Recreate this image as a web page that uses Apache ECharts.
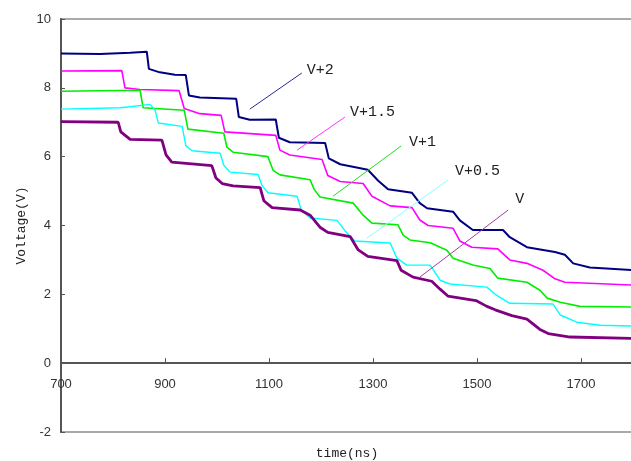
<!DOCTYPE html>
<html>
<head>
<meta charset="utf-8">
<script src="https://cdn.jsdelivr.net/npm/echarts@6/dist/echarts.min.js"></script>
<style>
html,body{margin:0;padding:0;background:#fff;}
#chart{width:631px;height:461px;}
</style>
</head>
<body>
<div id="chart"></div>
<script>
// ---- data ----
const seriesNames = ['V+2', 'V+1.5', 'V+1', 'V+0.5', 'V'];

const timeV2 = [700, 775, 833, 865, 869, 890, 919, 940, 946, 967, 1037, 1042, 1063, 1113, 1119, 1140, 1208, 1215, 1237, 1290, 1310, 1329, 1375, 1390, 1404, 1454, 1467, 1492, 1550, 1563, 1596, 1650, 1669, 1685, 1717, 1800];
const voltV2 = [9.00, 8.98, 9.02, 9.05, 8.55, 8.45, 8.38, 8.37, 7.78, 7.72, 7.68, 7.15, 7.07, 7.08, 6.55, 6.42, 6.40, 5.95, 5.78, 5.62, 5.30, 5.05, 4.95, 4.65, 4.50, 4.40, 4.15, 3.87, 3.87, 3.66, 3.37, 3.23, 3.15, 2.90, 2.78, 2.70];

const timeV15 = [700, 817, 823, 852, 927, 937, 967, 1008, 1015, 1113, 1121, 1140, 1202, 1213, 1237, 1281, 1298, 1333, 1375, 1390, 1406, 1454, 1467, 1490, 1540, 1563, 1596, 1627, 1650, 1669, 1800];
const voltV15 = [8.49, 8.50, 8.00, 7.95, 7.92, 7.40, 7.25, 7.20, 6.72, 6.62, 6.19, 6.05, 5.92, 5.45, 5.28, 5.22, 4.85, 4.57, 4.52, 4.16, 4.00, 3.92, 3.55, 3.37, 3.32, 3.00, 2.90, 2.70, 2.45, 2.35, 2.27];

const timeV1 = [700, 852, 858, 937, 944, 1013, 1019, 1031, 1098, 1108, 1121, 1179, 1187, 1198, 1262, 1281, 1298, 1348, 1358, 1371, 1410, 1442, 1454, 1492, 1525, 1540, 1596, 1621, 1635, 1660, 1698, 1800];
const voltV1 = [7.90, 7.93, 7.42, 7.35, 6.80, 6.68, 6.28, 6.13, 6.00, 5.60, 5.47, 5.33, 5.05, 4.83, 4.65, 4.30, 4.07, 4.02, 3.72, 3.58, 3.50, 3.28, 3.05, 2.85, 2.75, 2.47, 2.35, 2.12, 1.89, 1.77, 1.65, 1.63];

const timeV05 = [700, 813, 833, 871, 881, 887, 933, 940, 952, 1006, 1013, 1025, 1079, 1087, 1098, 1154, 1162, 1179, 1231, 1246, 1265, 1333, 1346, 1365, 1410, 1429, 1448, 1519, 1535, 1563, 1646, 1660, 1692, 1737, 1800];
const voltV05 = [7.38, 7.42, 7.45, 7.52, 7.35, 6.98, 6.88, 6.32, 6.17, 6.10, 5.75, 5.55, 5.48, 5.15, 4.95, 4.85, 4.45, 4.22, 4.15, 3.85, 3.55, 3.49, 3.05, 2.85, 2.85, 2.41, 2.30, 2.21, 2.00, 1.74, 1.72, 1.40, 1.19, 1.10, 1.08];

const timeV = [700, 810, 815, 833, 894, 902, 913, 990, 998, 1010, 1031, 1083, 1090, 1106, 1160, 1179, 1198, 1213, 1256, 1271, 1290, 1346, 1354, 1377, 1413, 1429, 1444, 1498, 1519, 1535, 1567, 1596, 1621, 1637, 1679, 1800];
const voltV = [7.02, 7.00, 6.72, 6.50, 6.48, 6.05, 5.84, 5.74, 5.38, 5.22, 5.15, 5.10, 4.72, 4.52, 4.45, 4.30, 3.95, 3.80, 3.68, 3.30, 3.10, 2.98, 2.70, 2.50, 2.38, 2.15, 1.95, 1.82, 1.65, 1.55, 1.38, 1.28, 0.98, 0.86, 0.76, 0.72];

// pointer lines for the curve labels
const pointerStartTime = [1063, 1154, 1223, 1288, 1390];
const pointerStartVolt = [7.38, 6.19, 4.85, 3.63, 2.50];
const pointerEndTime   = [1163, 1246, 1354, 1444, 1560];
const pointerEndVolt   = [8.43, 7.15, 6.31, 5.32, 4.45];

// axis ticks
const xTicks = [700, 900, 1100, 1300, 1500, 1700];
const yTicks = [-2, 0, 2, 4, 6, 8, 10];

// ---- styles / layout ----
const colors = ['#000080', '#ff00ff', '#00ee00', '#00ffff', '#800080'];
const pointerColors = ['#2a2a9a', '#ff33ff', '#22dd22', '#88ffff', '#a040a0'];
const widths = [2, 1.6, 1.6, 1.4, 2.8];
const labelOffsets = [[2, -3], [2, -5], [5, -4], [4, -9], [4, -11]];

const H = 461, gridTop = 19, gridBottom = 29;
const yMin = -2, yMax = 10;
const gridH = H - gridTop - gridBottom;
// move the x axis (line, ticks, labels, name) up to the y = 0 level
const xAxisOffset = -gridH * (0 - yMin) / (yMax - yMin);

const timeArrays = [timeV2, timeV15, timeV1, timeV05, timeV];
const voltArrays = [voltV2, voltV15, voltV1, voltV05, voltV];

const zip = (a, b) => a.map((x, i) => [x, b[i]]);

const series = [];
seriesNames.forEach((name, i) => {
  series.push({
    name: name,
    type: 'line',
    data: zip(timeArrays[i], voltArrays[i]),
    showSymbol: false,
    symbol: 'none',
    lineStyle: { color: colors[i], width: widths[i] },
    z: 3 + i,
    silent: true
  });
});
seriesNames.forEach((name, i) => {
  series.push({
    name: name + ' pointer',
    type: 'line',
    data: [[pointerStartTime[i], pointerStartVolt[i]], [pointerEndTime[i], pointerEndVolt[i]]],
    showSymbol: false,
    symbol: 'none',
    lineStyle: { color: pointerColors[i], width: 1 },
    z: 10,
    silent: true,
    endLabel: {
      show: true,
      formatter: name,
      color: '#222',
      fontFamily: 'Liberation Mono',
      fontSize: 15,
      offset: labelOffsets[i],
      distance: 3
    }
  });
});

const chart = echarts.init(document.getElementById('chart'), null, { renderer: 'canvas' });
chart.setOption({
  animation: false,
  backgroundColor: '#fff',
  grid: {
    left: 61, right: -2, top: gridTop, bottom: gridBottom,
    containLabel: false,
    outerBoundsMode: 'none',
    show: true, borderColor: '#aaaaaa', borderWidth: 2, backgroundColor: 'transparent'
  },
  xAxis: {
    type: 'value',
    position: 'bottom',
    offset: xAxisOffset,
    min: 700, max: 1800, interval: 200,
    name: 'time(ns)',
    nameLocation: 'middle',
    nameGap: 84,
    nameMoveOverlap: false,
    nameTextStyle: { fontFamily: 'Liberation Mono', fontSize: 13, color: '#222' },
    axisLine: { onZero: false, lineStyle: { color: '#555', width: 2 } },
    axisTick: { inside: true, length: 5, lineStyle: { color: '#555', width: 1 } },
    axisLabel: {
      margin: 15, fontFamily: 'Liberation Sans', fontSize: 13, color: '#333',
      showMaxLabel: false,
      formatter: v => (xTicks.indexOf(v) >= 0 ? String(v) : '')
    },
    splitLine: { show: false }
  },
  yAxis: {
    type: 'value',
    min: yMin, max: yMax, interval: 2,
    name: 'Voltage(V)',
    nameLocation: 'middle',
    nameGap: 33,
    nameMoveOverlap: false,
    nameTextStyle: { fontFamily: 'Liberation Mono', fontSize: 13, color: '#222' },
    axisLine: { show: true, onZero: false, lineStyle: { color: '#555', width: 2 } },
    axisTick: { show: true, inside: true, length: 4, lineStyle: { color: '#555', width: 1 } },
    axisLabel: {
      margin: 10, fontFamily: 'Liberation Sans', fontSize: 13, color: '#333',
      formatter: v => (yTicks.indexOf(v) >= 0 ? String(v) : '')
    },
    splitLine: { show: false }
  },
  series: series
});
</script>
</body>
</html>
